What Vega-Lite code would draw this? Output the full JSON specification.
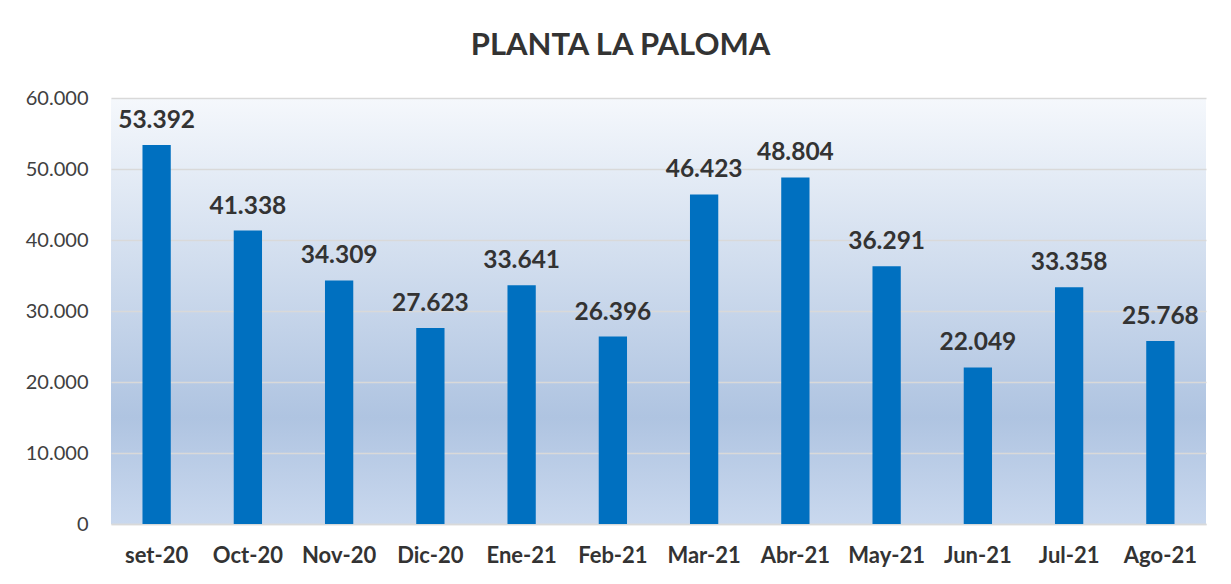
{
  "$schema": "https://vega.github.io/schema/vega-lite/v6.json",
  "width": 1095,
  "height": 426,
  "autosize": {"type": "none"},
  "padding": {"left": 111, "top": 98, "right": 25, "bottom": 60},
  "background": "#ffffff",
  "config": {
    "locale": {"number": {"decimal": ",", "thousands": ".", "grouping": [3], "currency": ["$", ""]}},
    "font": "Lato",
    "view": {
      "stroke": null,
      "fill": {
        "gradient": "linear", "x1": 0, "y1": 0, "x2": 0, "y2": 1,
        "stops": [
          {"offset": 0, "color": "#f5f8fc"},
          {"offset": 0.75, "color": "#afc4e1"},
          {"offset": 1, "color": "#c9d8ee"}
        ]
      }
    }
  },
  "title": {
    "text": "PLANTA  LA PALOMA",
    "fontSize": 31,
    "fontWeight": "bold",
    "color": "#333333",
    "anchor": "middle",
    "frame": "group",
    "baseline": "alphabetic",
    "offset": 2,
    "dx": -38
  },
  "data": {
    "values": [
      {"mes": "set-20", "valor": 53392},
      {"mes": "Oct-20", "valor": 41338},
      {"mes": "Nov-20", "valor": 34309},
      {"mes": "Dic-20", "valor": 27623},
      {"mes": "Ene-21", "valor": 33641},
      {"mes": "Feb-21", "valor": 26396},
      {"mes": "Mar-21", "valor": 46423},
      {"mes": "Abr-21", "valor": 48804},
      {"mes": "May-21", "valor": 36291},
      {"mes": "Jun-21", "valor": 22049},
      {"mes": "Jul-21", "valor": 33358},
      {"mes": "Ago-21", "valor": 25768}
    ]
  },
  "encoding": {
    "x": {
      "field": "mes",
      "type": "nominal",
      "sort": null,
      "scale": {"paddingInner": 0.69, "paddingOuter": 0.345},
      "axis": {
        "title": null,
        "labelAngle": 0,
        "labelFontSize": 22,
        "labelFontWeight": "bold",
        "labelColor": "#333333",
        "labelPadding": 21,
        "ticks": false,
        "domainColor": "#d9d9d9",
        "domainWidth": 1.5
      }
    },
    "y": {
      "field": "valor",
      "type": "quantitative",
      "scale": {"domain": [0, 60000]},
      "axis": {
        "title": null,
        "values": [0, 10000, 20000, 30000, 40000, 50000, 60000],
        "format": ",.0f",
        "labelFontSize": 20,
        "labelColor": "#404040",
        "labelPadding": 23,
        "ticks": false,
        "domain": false,
        "gridColor": "#d9d9d9",
        "gridWidth": 1.5
      }
    }
  },
  "layer": [
    {"mark": {"type": "bar", "color": "#0070c0"}},
    {
      "mark": {"type": "text", "baseline": "alphabetic", "dy": -17, "fontSize": 24.5, "fontWeight": "bold", "color": "#333333"},
      "encoding": {"text": {"field": "valor", "type": "quantitative", "format": ",.0f"}}
    }
  ]
}
